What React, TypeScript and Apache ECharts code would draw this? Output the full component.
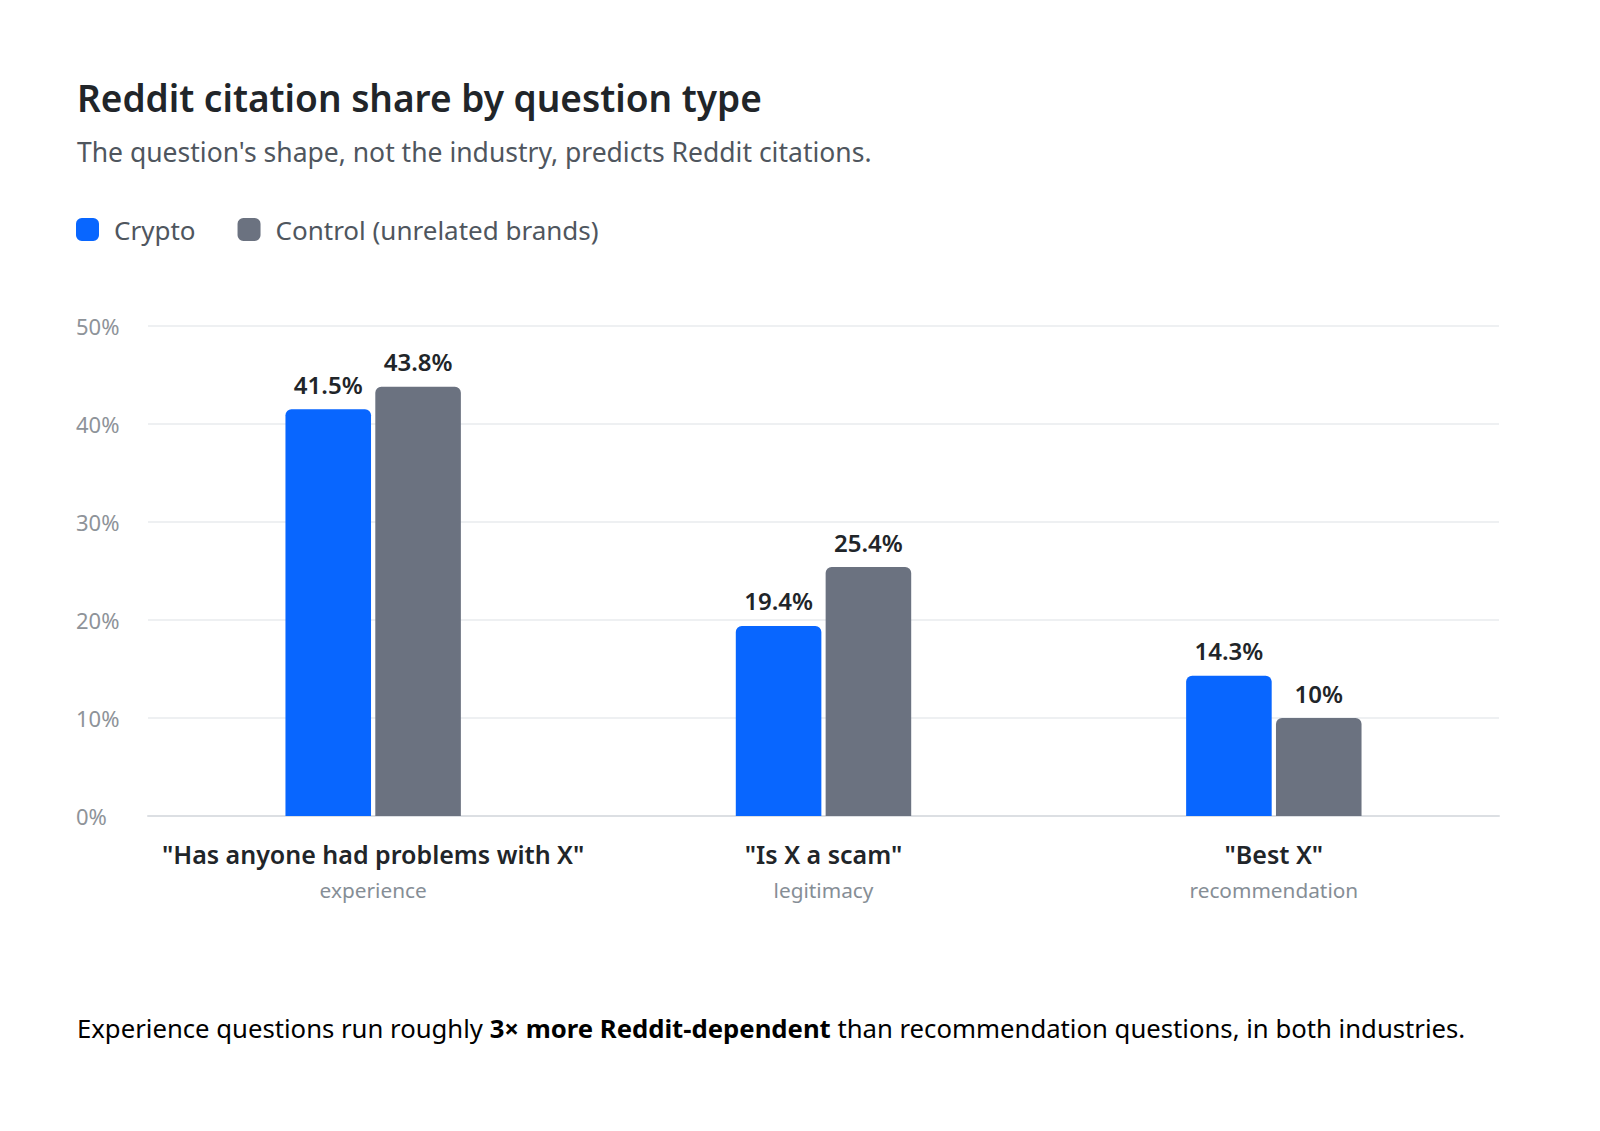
import React, { useEffect, useRef } from "react";
import * as echarts from "echarts";

const categories = ['"Has anyone had problems with X"', '"Is X a scam"', '"Best X"'];
const subLabels = ["experience", "legitimacy", "recommendation"];
const cryptoValues = [41.5, 19.4, 14.3];
const controlValues = [43.8, 25.4, 10];
const seriesNames = ["Crypto", "Control (unrelated brands)"];
const yTicks = { min: 0, max: 50, interval: 10 };

const FONT = "'Noto Sans', 'Open Sans', sans-serif";

export default function App() {
  const ref = useRef<HTMLDivElement>(null);
  useEffect(() => {
    document.body.style.margin = "0";
    if (!ref.current) return;
    const chart = echarts.init(ref.current, undefined, { renderer: "svg" });
    const valueLabel = {
      show: true,
      position: "top" as const,
      distance: 13,
      formatter: (p: any) => `${p.value}%`,
      fontFamily: FONT,
      fontSize: 24,
      fontWeight: 600,
      lineHeight: 24,
      color: "#212529",
    };
    chart.setOption({
      animation: false,
      backgroundColor: "#ffffff",
      textStyle: { fontFamily: FONT },
      title: [
        {
          text: "Reddit citation share by question type",
          left: 77,
          top: 75.5,
          padding: 0,
          textStyle: { fontFamily: FONT, fontSize: 37, fontWeight: 600, lineHeight: 44, color: "#212529" },
        },
        {
          text: "The question's shape, not the industry, predicts Reddit citations.",
          left: 77,
          top: 135,
          padding: 0,
          textStyle: { fontFamily: FONT, fontSize: 26.5, fontWeight: "normal", lineHeight: 34, color: "#4f565e" },
        },
      ],
      legend: {
        left: 76,
        top: 216.5,
        padding: 0,
        itemWidth: 23,
        itemHeight: 23,
        itemGap: 42,
        icon: "roundRect",
        textStyle: { fontFamily: FONT, fontSize: 26, color: "#4f565e", padding: [0, 0, 0, 10] },
        data: seriesNames,
      },
      grid: { left: 148, right: 101, top: 326, bottom: 315, containLabel: false },
      xAxis: {
        type: "category",
        data: categories,
        axisTick: { show: false },
        axisLine: { show: true, lineStyle: { color: "#dcdfe3", width: 2 } },
        axisLabel: {
          margin: 18,
          interval: 0,
          formatter: (v: string, i: number) => `{a|${v}}\n{b|${subLabels[i]}}`,
          rich: {
            a: { fontFamily: FONT, fontSize: 25, fontWeight: 600, lineHeight: 40, color: "#212529" },
            b: { fontFamily: FONT, fontSize: 20.8, lineHeight: 32, color: "#868e96" },
          },
        },
      },
      yAxis: {
        type: "value",
        min: yTicks.min,
        max: yTicks.max,
        interval: yTicks.interval,
        axisLine: { show: false },
        axisTick: { show: false },
        splitLine: { lineStyle: { color: "#e9ebee", width: 1.5 } },
        axisLabel: {
          formatter: "{value}%",
          align: "left",
          margin: 72,
          fontFamily: FONT,
          fontSize: 22,
          color: "#8e9399",
        },
      },
      series: [
        {
          name: seriesNames[0],
          type: "bar",
          data: cryptoValues,
          barWidth: "19%",
          barGap: "5%",
          itemStyle: { color: "#0866ff", borderRadius: [6, 6, 0, 0] },
          label: valueLabel,
        },
        {
          name: seriesNames[1],
          type: "bar",
          data: controlValues,
          barWidth: "19%",
          barGap: "5%",
          itemStyle: { color: "#6b7280", borderRadius: [6, 6, 0, 0] },
          label: valueLabel,
        },
      ],
      graphic: [
        {
          type: "text",
          left: 77,
          top: 1015,
          style: {
            text: "{n|Experience questions run roughly }{b|3× more Reddit-dependent}{n| than recommendation questions, in both industries.}",
            rich: {
              n: { fontFamily: FONT, fontSize: 25.7, lineHeight: 32, color: "#5a6169" },
              b: { fontFamily: FONT, fontSize: 25.7, fontWeight: 700, lineHeight: 32, color: "#212529" },
            },
          },
        },
      ],
    });
    return () => chart.dispose();
  }, []);
  return <div ref={ref} style={{ width: 1600, height: 1131 }} />;
}
